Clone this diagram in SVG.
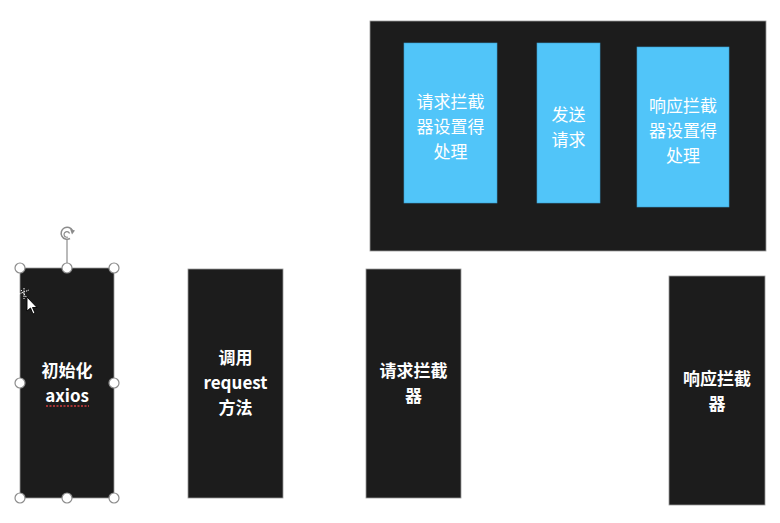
<svg xmlns="http://www.w3.org/2000/svg" width="780" height="523" viewBox="0 0 780 523">
<style>
.dark{fill:#1c1c1c;stroke:#9a9a9a;stroke-width:0.8}
.blue{fill:#51c5f9;stroke:#3a9ed0;stroke-width:0.6}
.bt{font-family:"Noto Sans CJK SC","Noto Sans",sans-serif;font-size:17px;fill:#ffffff;text-anchor:middle}
.wt{font-family:"Noto Sans CJK SC","Noto Sans",sans-serif;font-size:17px;font-weight:bold;fill:#ffffff;text-anchor:middle}
.h{fill:#ffffff;stroke:#8c8c8c;stroke-width:1.2}
</style>
<rect width="780" height="523" fill="#ffffff"/>
<g id="container">
<rect class="dark" x="370" y="21" width="396" height="230"/>
</g>
<g id="req-interceptor-handle">
<rect class="blue" x="404" y="43" width="93" height="160"/>
<text class="bt"><tspan x="450.5" y="108">请求拦截</tspan><tspan x="450.5" y="133">器设置得</tspan><tspan x="450.5" y="158">处理</tspan></text>
</g>
<g id="send-request">
<rect class="blue" x="537" y="43" width="63" height="160"/>
<text class="bt"><tspan x="568.5" y="121">发送</tspan><tspan x="568.5" y="146">请求</tspan></text>
</g>
<g id="res-interceptor-handle">
<rect class="blue" x="637" y="47" width="92" height="160"/>
<text class="bt"><tspan x="683" y="112">响应拦截</tspan><tspan x="683" y="137">器设置得</tspan><tspan x="683" y="162">处理</tspan></text>
</g>
<g id="init-axios">
<rect class="dark" x="20" y="268" width="94" height="230"/>
<text class="wt"><tspan x="67" y="377">初始化</tspan><tspan x="67" y="402">axios</tspan></text>
<line x1="46" y1="406" x2="89" y2="406" stroke="#d23c3c" stroke-width="1.3" stroke-dasharray="2,1.5"/>
</g>
<g id="call-request">
<rect class="dark" x="188" y="269" width="95" height="229"/>
<text class="wt"><tspan x="235.5" y="364">调用</tspan><tspan x="235.5" y="389">request</tspan><tspan x="235.5" y="414">方法</tspan></text>
</g>
<g id="req-interceptor">
<rect class="dark" x="366" y="269" width="95" height="229"/>
<text class="wt"><tspan x="413.5" y="377">请求拦截</tspan><tspan x="413.5" y="402">器</tspan></text>
</g>
<g id="res-interceptor">
<rect class="dark" x="669" y="276" width="96" height="229"/>
<text class="wt"><tspan x="717" y="385">响应拦截</tspan><tspan x="717" y="410">器</tspan></text>
</g>
<g id="selection">
<line x1="67" y1="240" x2="67" y2="263" stroke="#8c8c8c" stroke-width="1.2"/>
<path d="M72.5 230.5 A6 6 0 1 0 70 238.5" fill="none" stroke="#8c8c8c" stroke-width="1.5"/>
<path d="M69.5 233.5 A2.8 2.8 0 1 0 68 237" fill="none" stroke="#8c8c8c" stroke-width="1.2"/>
<path d="M70 229 L75 230.5 L72 234.5 Z" fill="#8c8c8c"/>
<circle class="h" cx="20" cy="268" r="5"/>
<circle class="h" cx="67" cy="268" r="5"/>
<circle class="h" cx="114" cy="268" r="5"/>
<circle class="h" cx="20" cy="383" r="5"/>
<circle class="h" cx="114" cy="383" r="5"/>
<circle class="h" cx="20" cy="498" r="5"/>
<circle class="h" cx="67" cy="498" r="5"/>
<circle class="h" cx="114" cy="498" r="5"/>
<g stroke="#ffffff" stroke-width="1" stroke-dasharray="1.5,1" fill="none">
<path d="M19 294 L29 290 M21 290 L27 298 M24 288 L24 299"/>
</g>
<path d="M27 297 L27 311 L30.5 308 L33 314 L35 313 L32.5 307.5 L37 307.5 Z" fill="#ffffff" stroke="#000000" stroke-width="0.9"/>
</g>
</svg>
